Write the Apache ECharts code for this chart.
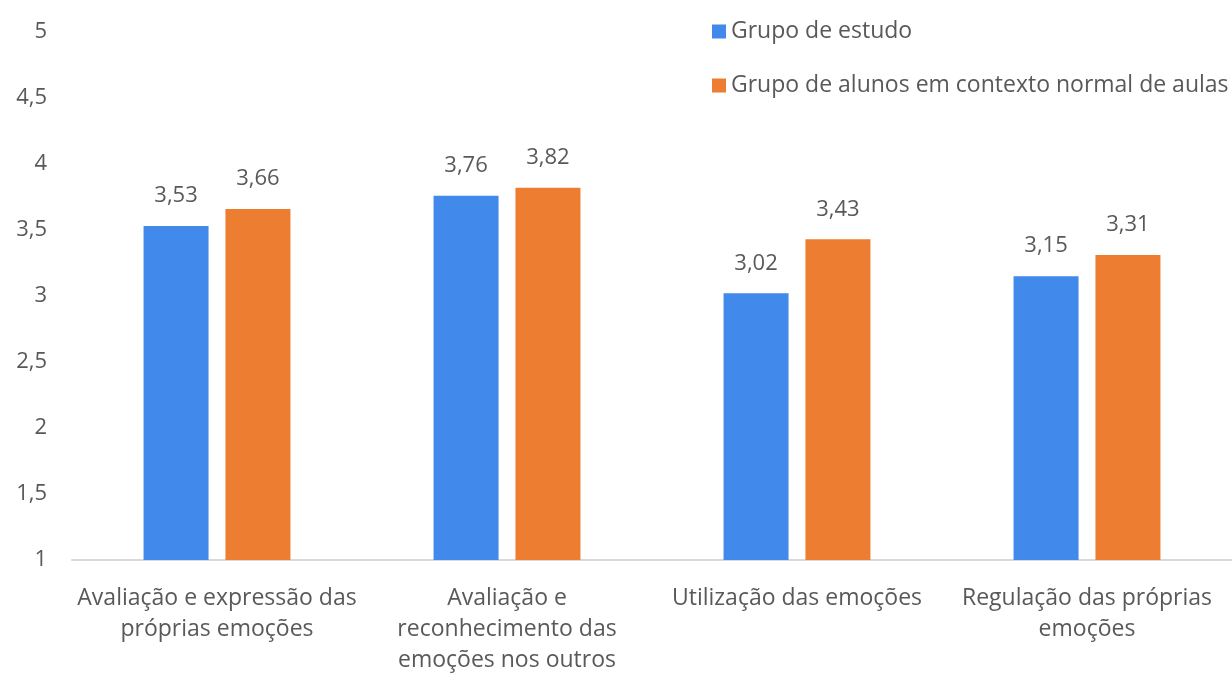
<!DOCTYPE html>
<html>
<head>
<meta charset="utf-8">
<script src="https://cdn.jsdelivr.net/npm/echarts@6/dist/echarts.min.js"></script>
<style>
  html, body { margin: 0; padding: 0; background: #fff; }
  #chart { width: 1232px; height: 676px; }
</style>
</head>
<body>
<div id="chart"></div>
<script>
// Categories of emotional competence
const categories = [
  'Avaliação e expressão das\npróprias emoções',
  'Avaliação e\nreconhecimento das\nemoções nos outros',
  'Utilização das emoções',
  'Regulação das próprias\nemoções'
];
const seriesNames = ['Grupo de estudo', 'Grupo de alunos em contexto normal de aulas'];
const studyGroup = [3.53, 3.76, 3.02, 3.15];
const normalGroup = [3.66, 3.82, 3.43, 3.31];
const colors = ['#4189ea', '#ed7d31'];

const FONT = '"Open Sans", sans-serif';
const TEXT = '#595959';
const comma = v => String(v).replace('.', ',');

const valueLabel = {
  show: true, position: 'top', distance: 19,
  fontSize: 22, color: TEXT, fontFamily: FONT,
  formatter: p => comma(p.value)
};

const chart = echarts.init(document.getElementById('chart'));
chart.setOption({
  animation: false,
  textStyle: { fontFamily: FONT },
  grid: { left: 72, right: 0, top: 32, bottom: 108, containLabel: false },
  legend: {
    orient: 'vertical',
    left: 707,
    top: 15,
    itemWidth: 14,
    itemHeight: 14,
    itemGap: 31,
    icon: 'rect',
    textStyle: { fontFamily: FONT, fontSize: 23, color: TEXT },
    data: seriesNames
  },
  xAxis: {
    type: 'category',
    data: categories,
    axisLine: { lineStyle: { color: '#d9d9d9', width: 2 } },
    axisTick: { show: false },
    axisLabel: {
      interval: 0,
      margin: 23,
      fontSize: 23,
      lineHeight: 31,
      color: TEXT,
      fontFamily: FONT
    }
  },
  yAxis: {
    type: 'value',
    min: 1,
    max: 5,
    interval: 0.5,
    splitLine: { show: false },
    axisLine: { show: false },
    axisTick: { show: false },
    axisLabel: {
      margin: 25,
      fontSize: 22,
      color: TEXT,
      fontFamily: FONT,
      formatter: comma
    }
  },
  series: [
    {
      name: seriesNames[0],
      type: 'bar',
      data: studyGroup,
      barWidth: 65,
      barGap: '26%',
      itemStyle: { color: colors[0] },
      label: valueLabel
    },
    {
      name: seriesNames[1],
      type: 'bar',
      data: normalGroup,
      barWidth: 65,
      itemStyle: { color: colors[1] },
      label: valueLabel
    }
  ]
});
</script>
</body>
</html>
